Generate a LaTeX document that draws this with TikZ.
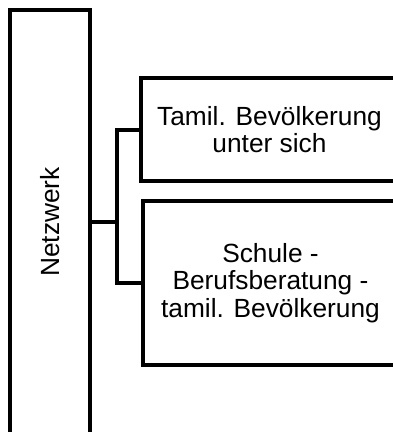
\documentclass[tikz,border=0pt]{standalone}
\usepackage{fontspec}
\setmainfont{Liberation Sans}
\begin{document}
\begin{tikzpicture}[x=1pt,y=-1pt,
  box/.style={draw=black,line width=4pt,rectangle,inner sep=0pt,outer sep=0pt,align=center,
    font=\fontsize{26.3}{27.5}\selectfont,line join=miter},
  conn/.style={draw=black,line width=4pt,line join=miter}]
\useasboundingbox (0,0) rectangle (393,432);
\fill[white] (0,0) rectangle (393,432);
\node[box,minimum width=80pt,minimum height=424pt] (net) at (50,222) {\rotatebox{90}{Netzwerk}};
\node[box,minimum width=257pt,minimum height=103pt] (tamil) at (269.5,129.5) {Tamil. Bevölkerung\\unter sich};
\node[box,minimum width=255pt,minimum height=164pt] (schule) at (270.5,283) {Schule -\\Berufsberatung -\\tamil. Bevölkerung};
\coordinate (j) at (117,222);
\draw[conn] (tamil.west) -- (tamil.west -| j) -- (schule.west -| j) -- (schule.west);
\draw[conn] (net.east) -- (j);
\end{tikzpicture}
\end{document}
